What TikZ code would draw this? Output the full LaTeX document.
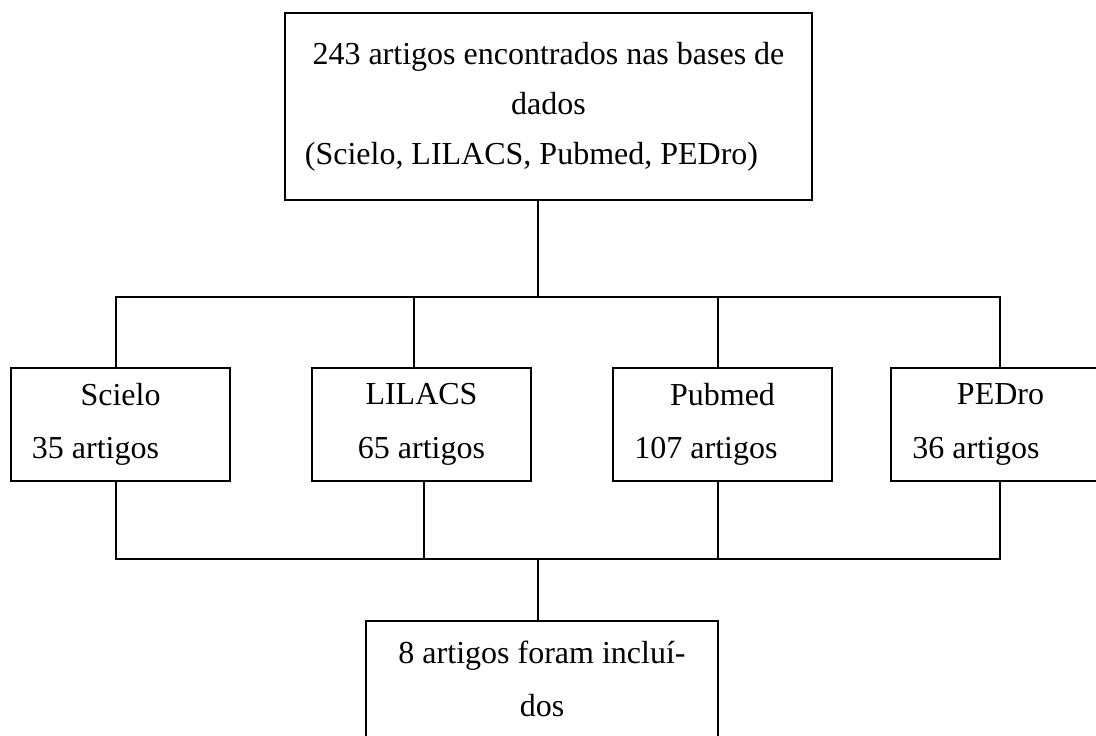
\documentclass[tikz,border=0pt]{standalone}
\usepackage{fontspec}
\setmainfont{Liberation Serif}

\begin{document}
\begin{tikzpicture}[x=0.375pt, y=-0.375pt,
    box/.style={draw, line width=0.8pt, inner sep=0pt, align=center,
        font=\fontsize{12}{20}\selectfont},
    dbbox/.style={box, minimum width=82.125pt, minimum height=42.375pt},
    link/.style={line width=0.4pt}]
    \useasboundingbox (0,0) rectangle (1096,735);

    \node [box, minimum width=197.625pt, minimum height=70.125pt,
        font=\fontsize{12}{18.75}\selectfont] (found) at (548.5,106.5)
        {243 artigos encontrados nas bases de\\dados\\(Scielo, LILACS, Pubmed, PEDro)\hspace*{12.75pt}};

    \node [dbbox] (scielo) at (120.5,424.5) {Scielo\\35 artigos\hspace*{18.75pt}};
    \node [dbbox] (lilacs) at (421.5,424.5) {LILACS\\65 artigos};
    \node [dbbox] (pubmed) at (722.5,424.5) {Pubmed\\107 artigos\hspace*{12.4pt}};
    \node [dbbox] (pedro) at (1000.5,424.5) {PEDro\\36 artigos\hspace*{18.4pt}};

    \node [box, minimum width=132pt, minimum height=43.5pt] (result) at (542,679)
        {8 artigos foram incluí-\\dos};

    \coordinate (fork) at (538,297);
    \coordinate (merge) at (538,559);

    \draw [link] (found.south -| fork) -- (fork);
    \foreach \db/\up/\down in {scielo/-4.5/-4.5, lilacs/-7.5/2.5, pubmed/-4.5/-4.5, pedro/-0.5/-0.5} {
        \draw [link] ([xshift=\up*0.375pt]\db.north) |- (fork);
        \draw [link] ([xshift=\down*0.375pt]\db.south) |- (merge);
    }
    \draw [link] (merge) -- (result.north -| merge);
\end{tikzpicture}
\end{document}
